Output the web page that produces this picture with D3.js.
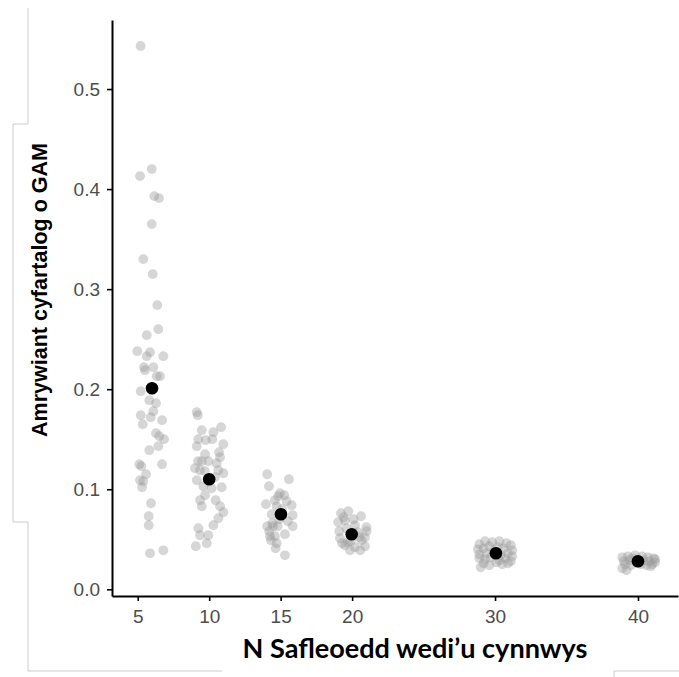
<!DOCTYPE html>
<html>
<head>
<meta charset="utf-8">
<script src="https://cdn.jsdelivr.net/npm/d3@7"></script>
<style>
  body { margin: 0; background: #fff; }
  svg { display: block; }
</style>
</head>
<body>
<svg id="chart"></svg>
<script>
// tick labels
const xTicks = [5, 10, 15, 20, 30, 40]
const yTicks = [0, 0.1, 0.2, 0.3, 0.4, 0.5]

// jittered points, one list per N sites (x = jittered N, y = mean GAM variance)
const pointsX = [
  [5.2, 5.98, 5.16, 6.16, 6.49, 5.98, 5.39, 6.05, 6.37, 6.44, 5.63, 4.97, 5.86, 5.63, 6.79, 5.44, 6.09, 5.51, 6.33, 6.56,
   5.21, 5.81, 6.28, 6.09, 5.21, 5.91, 6.70, 5.35, 6.28, 6.51, 6.84, 6.44, 5.81, 6.70, 5.11, 5.25, 5.58, 5.16, 5.39, 5.30,
   5.93, 5.77, 5.77, 5.86, 6.79],
  [9.13, 9.20, 9.48, 10.29, 10.83, 9.24, 9.76, 10.22, 10.99, 9.13, 9.71, 10.69, 10.76, 9.48, 9.94, 10.52, 9.01, 9.36, 10.64, 10.99,
   9.13, 9.59, 10.17, 10.87, 9.71, 9.36, 10.45, 9.48, 10.76, 10.99, 10.64, 10.29, 9.24, 9.36, 9.94, 9.83, 9.06, 9.22, 10.4, 9.7],
  [14.06, 14.18, 15.58, 14.95, 13.97, 15.77, 14.37, 15.84, 14.06, 15.84, 14.48, 15.30, 14.25, 14.72, 14.65, 15.30, 15.25, 14.83,
   14.60, 15.42, 14.72, 14.41, 14.79, 14.60, 14.32, 15.1, 14.9, 15.5, 14.2],
  [19.22, 19.73, 20.62, 19.03, 19.50, 20.20, 21.01, 19.15, 20.66, 19.50, 20.20, 20.90, 19.85, 20.56, 19.6, 20.4, 19.1, 20.9,
   19.9, 20.5, 19.3, 20.1, 19.7, 21.0, 19.4],
  [28.9, 29.3, 29.8, 30.3, 30.8, 31.1, 28.8, 29.2, 29.6, 30.2, 30.6, 31.2, 28.9, 29.4, 29.9, 30.4, 30.9, 31.2, 28.9, 29.3,
   29.7, 30.3, 30.7, 31.1, 29.2, 29.6, 30.1, 30.5, 30.9, 29.0],
  [38.9, 39.3, 39.8, 40.3, 40.7, 41.1, 39.0, 39.4, 39.9, 40.4, 40.8, 41.2, 39.1, 39.5, 40.2, 40.6, 41.0, 38.9, 39.2, 40.9,
   41.2, 39.6]
]
const pointsY = [
  [0.543, 0.420, 0.413, 0.393, 0.391, 0.365, 0.330, 0.315, 0.284, 0.260, 0.254, 0.238, 0.237, 0.233, 0.233, 0.222, 0.222, 0.219, 0.213, 0.213,
   0.198, 0.189, 0.186, 0.178, 0.174, 0.172, 0.169, 0.165, 0.156, 0.153, 0.150, 0.143, 0.139, 0.125, 0.125, 0.123, 0.115, 0.109, 0.108, 0.102,
   0.086, 0.073, 0.064, 0.036, 0.039],
  [0.177, 0.174, 0.159, 0.157, 0.162, 0.150, 0.149, 0.150, 0.145, 0.143, 0.135, 0.137, 0.132, 0.128, 0.128, 0.126, 0.121, 0.119, 0.119, 0.116,
   0.109, 0.103, 0.101, 0.102, 0.094, 0.089, 0.089, 0.083, 0.083, 0.077, 0.071, 0.064, 0.061, 0.054, 0.054, 0.046, 0.043, 0.128, 0.112, 0.118],
  [0.115, 0.103, 0.110, 0.096, 0.085, 0.084, 0.075, 0.074, 0.063, 0.063, 0.063, 0.055, 0.053, 0.046, 0.041, 0.034, 0.094, 0.093,
   0.089, 0.088, 0.083, 0.066, 0.063, 0.053, 0.049, 0.080, 0.070, 0.068, 0.058],
  [0.076, 0.078, 0.073, 0.067, 0.069, 0.064, 0.058, 0.051, 0.049, 0.044, 0.042, 0.043, 0.039, 0.039, 0.061, 0.057, 0.058, 0.052,
   0.048, 0.052, 0.046, 0.070, 0.047, 0.062, 0.072],
  [0.045, 0.048, 0.047, 0.048, 0.046, 0.044, 0.040, 0.041, 0.043, 0.042, 0.041, 0.039, 0.035, 0.036, 0.038, 0.034, 0.036, 0.033, 0.031, 0.030,
   0.032, 0.029, 0.031, 0.028, 0.026, 0.024, 0.027, 0.025, 0.026, 0.022],
  [0.032, 0.033, 0.034, 0.033, 0.032, 0.031, 0.028, 0.029, 0.030, 0.029, 0.028, 0.027, 0.025, 0.024, 0.025, 0.024, 0.025, 0.021, 0.019, 0.023,
   0.030, 0.031]
]

// black means (also jittered)
const meanX = [6.0, 10.0, 15.02, 19.97, 30.06, 40.0]
const meanY = [0.201, 0.110, 0.075, 0.055, 0.036, 0.028]

const W = 679, H = 677

const svg = d3.select("#chart").attr("width", W).attr("height", H)

// faint frame lines left over in the picture
svg.append("path")
    .attr("d", "M28,8V124H13V522H28V671H222M614,677V671H679")
    .attr("fill", "none")
    .attr("stroke", "#cccccc")
    .attr("stroke-width", 1)

const x = d3.scaleLinear().domain([3.2, 42.8]).range([112, 678])
const y = d3.scaleLinear().domain([-0.0067, 0.569]).range([596, 20])

// axes
svg.append("g")
    .attr("transform", "translate(0,596)")
    .call(d3.axisBottom(x).tickValues(xTicks).tickSize(5).tickSizeOuter(0).tickPadding(9))
svg.append("g")
    .attr("transform", "translate(112,0)")
    .call(d3.axisLeft(y).tickValues(yTicks).tickFormat(d3.format(".1f")).tickSize(5).tickSizeOuter(0).tickPadding(7))

svg.selectAll(".domain").attr("stroke", "#000").attr("stroke-width", 2)
svg.selectAll(".tick line").attr("stroke", "#000").attr("stroke-width", 1.6)
svg.selectAll(".tick text")
    .attr("fill", "#4d4d4d")
    .style("font-family", "'Liberation Sans', Arial, sans-serif")
    .style("font-size", "19px")

// jittered points
const pts = []
pointsX.forEach((xs, g) => xs.forEach((v, i) => pts.push({x: v, y: pointsY[g][i]})))

svg.append("g")
    .selectAll("circle")
    .data(pts)
    .join("circle")
    .attr("cx", d => x(d.x))
    .attr("cy", d => y(d.y))
    .attr("r", 4.9)
    .attr("fill", "#999999")
    .attr("fill-opacity", 0.4)

// means
svg.append("g")
    .selectAll("circle")
    .data(meanX)
    .join("circle")
    .attr("cx", d => x(d))
    .attr("cy", (d, i) => y(meanY[i]))
    .attr("r", 6.3)
    .attr("fill", "#000")

// axis titles
svg.append("text")
    .attr("transform", "translate(47,290) rotate(-90)")
    .attr("text-anchor", "middle")
    .style("font-family", "'Liberation Sans', Arial, sans-serif")
    .style("font-weight", "bold")
    .style("font-size", "21.5px")
    .text("Amrywiant cyfartalog o GAM")

svg.append("text")
    .attr("x", 415)
    .attr("y", 658)
    .attr("text-anchor", "middle")
    .attr("textLength", 345)
    .attr("lengthAdjust", "spacingAndGlyphs")
    .style("font-family", "Lato, 'Open Sans', sans-serif")
    .style("font-weight", "bold")
    .style("font-size", "27px")
    .text("N Safleoedd wedi’u cynnwys")
</script>
</body>
</html>
